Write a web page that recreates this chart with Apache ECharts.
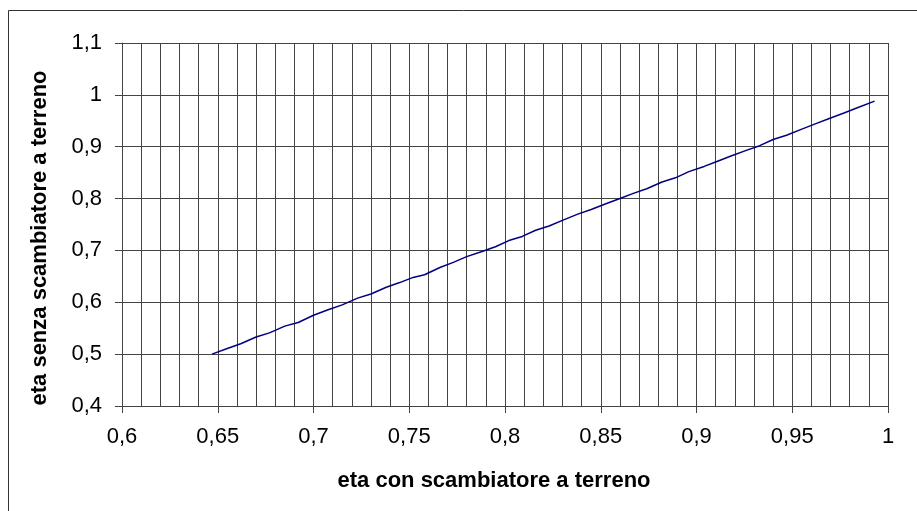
<!DOCTYPE html>
<html lang="it">
<head>
<meta charset="UTF-8">
<title>eta</title>
<script src="https://cdn.jsdelivr.net/npm/echarts@6/dist/echarts.min.js"></script>
<style>
  html, body { margin: 0; padding: 0; background: #fff; }
  #chart { width: 917px; height: 511px; }
</style>
</head>
<body>
<div id="chart"></div>
<script>
// eta con scambiatore a terreno (asse x)
var etaCon = [0.647, 0.655, 0.662, 0.670, 0.677, 0.685, 0.692, 0.700, 0.708, 0.715,
  0.723, 0.730, 0.738, 0.745, 0.752, 0.758, 0.766, 0.773, 0.780, 0.788,
  0.795, 0.802, 0.809, 0.816, 0.823, 0.830, 0.838, 0.845, 0.852, 0.860,
  0.867, 0.874, 0.882, 0.889, 0.896, 0.904, 0.911, 0.918, 0.926, 0.933,
  0.940, 0.947, 0.955, 0.962, 0.969, 0.977, 0.984, 0.993];
// eta senza scambiatore a terreno (asse y)
var etaSenza = [0.500, 0.511, 0.520, 0.533, 0.541, 0.554, 0.561, 0.575, 0.586, 0.595,
  0.608, 0.616, 0.629, 0.638, 0.648, 0.653, 0.667, 0.677, 0.688, 0.698,
  0.707, 0.719, 0.727, 0.739, 0.747, 0.758, 0.770, 0.779, 0.789, 0.800,
  0.810, 0.819, 0.832, 0.840, 0.852, 0.862, 0.872, 0.882, 0.893, 0.902,
  0.914, 0.922, 0.934, 0.944, 0.954, 0.965, 0.975, 0.988];

var xTitle = 'eta con scambiatore a terreno';
var yTitle = 'eta senza scambiatore a terreno';

var points = etaCon.map(function (x, i) { return [x, etaSenza[i]]; });

var font = '"Liberation Sans", Arial, sans-serif';
var gridColor = '#444';
var titleStyle = { fontFamily: font, fontSize: 22, fontWeight: 'bold', fill: '#000',
  align: 'center', verticalAlign: 'middle' };

// virgola come separatore decimale
function fmt(v) {
  return String(+v.toFixed(2)).replace('.', ',');
}

var chart = echarts.init(document.getElementById('chart'), null, { renderer: 'canvas' });

chart.setOption({
  animation: false,
  backgroundColor: '#fff',
  grid: { left: 122, right: 29, top: 43, bottom: 105, containLabel: false },
  graphic: [{
    type: 'rect',
    shape: { x: 8.5, y: 10.5, width: 930, height: 520 },
    style: { fill: 'none', stroke: '#333', lineWidth: 1 },
    silent: true
  }, {
    // titoli degli assi
    type: 'text',
    x: 494, y: 481,
    style: Object.assign({ text: xTitle }, titleStyle),
    silent: true
  }, {
    type: 'text',
    x: 40, y: 238,
    rotation: Math.PI / 2,
    style: Object.assign({ text: yTitle }, titleStyle),
    silent: true
  }],
  xAxis: {
    type: 'value',
    min: 0.6, max: 1, interval: 0.05,
    axisLine: { show: true, lineStyle: { color: gridColor, width: 1 } },
    axisTick: { show: true, inside: false, length: 7, lineStyle: { color: gridColor } },
    axisLabel: { margin: 20, fontFamily: font, fontSize: 22, color: '#000', formatter: fmt },
    splitLine: { show: true, lineStyle: { color: gridColor, width: 1 } },
    minorTick: { show: false, splitNumber: 5 },
    minorSplitLine: { show: true, lineStyle: { color: gridColor, width: 1 } }
  },
  yAxis: {
    type: 'value',
    min: 0.4, max: 1.1, interval: 0.1,
    axisLine: { show: true, lineStyle: { color: gridColor, width: 1 } },
    axisTick: { show: true, inside: false, length: 7, lineStyle: { color: gridColor } },
    axisLabel: { margin: 20, fontFamily: font, fontSize: 22, color: '#000', formatter: fmt },
    splitLine: { show: true, lineStyle: { color: gridColor, width: 1 } }
  },
  series: [{
    type: 'line',
    data: points,
    showSymbol: false,
    symbol: 'none',
    lineStyle: { color: '#000080', width: 1.5 }
  }]
});
</script>
</body>
</html>
